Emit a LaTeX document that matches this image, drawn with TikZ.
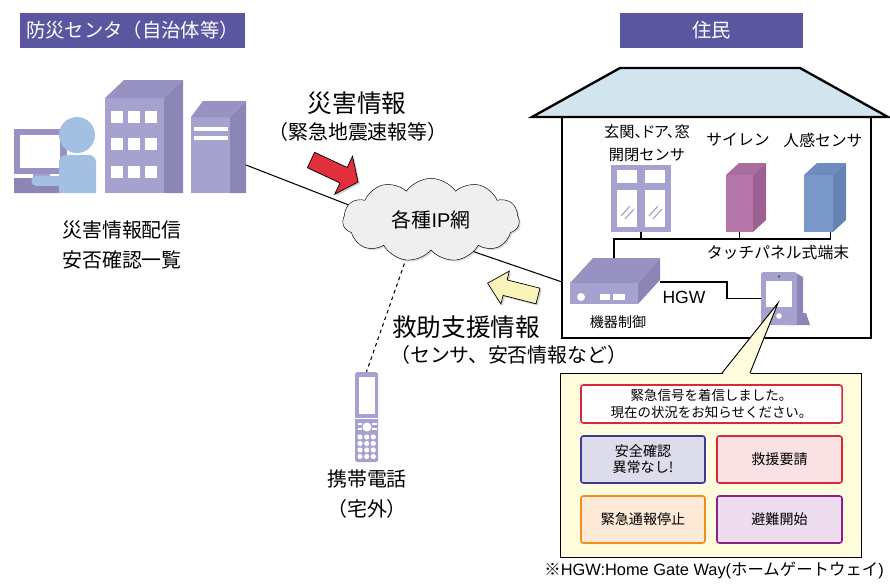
\documentclass[tikz,border=0pt]{standalone}
\usepackage{fontspec}
\setmainfont{Noto Sans CJK JP}
\newfontfamily\latinfont{Liberation Sans}
\usepackage{xcolor}
\usepackage{tikz}
\usetikzlibrary{positioning,shapes.symbols,shadows,calc}

\definecolor{hdrpurple}{HTML}{5B56A0}
\definecolor{lav}{HTML}{A6A2CF}
\definecolor{lavtop}{HTML}{9792C1}
\definecolor{lavside}{HTML}{8B86B6}
\definecolor{skin}{HTML}{A3BFE1}
\definecolor{roof}{HTML}{D2E5EE}
\definecolor{sirenf}{HTML}{B576A9}
\definecolor{sirent}{HTML}{A96C9E}
\definecolor{sirens}{HTML}{9C6192}
\definecolor{humf}{HTML}{7A97C9}
\definecolor{humt}{HTML}{6F8CBE}
\definecolor{hums}{HTML}{6783B3}
\definecolor{alarmred}{HTML}{E1303B}
\definecolor{hintyel}{HTML}{FAF3BA}
\definecolor{cloudfill}{HTML}{EFEFEF}
\definecolor{panelbg}{HTML}{FFFBDD}
\definecolor{btnred}{HTML}{D9263C}
\definecolor{btnnavy}{HTML}{3B3C8C}
\definecolor{btnorange}{HTML}{F18D1F}
\definecolor{btnpurple}{HTML}{8C1F8C}

\newcommand{\fsize}[2]{\fontsize{#1}{#2}\selectfont}

\tikzset{
  hdr/.style={fill=hdrpurple, text=white, font=\fsize{16.5}{20}, minimum height=1.05cm, inner sep=0pt},
  lbl/.style={align=center, inner sep=0pt},
  face/.style={fill=lav, inner sep=0pt},
  wire/.style={line width=0.9pt},
  btn/.style={draw, rounded corners=2pt, line width=1.3pt, align=center, inner sep=0pt, font=\fsize{12}{13.5}},
  blockarrow/.style={draw, line width=0.6pt, line join=miter, drop shadow={opacity=0.35, shadow xshift=1.5pt, shadow yshift=-1.5pt}}
}

\begin{document}
\begin{tikzpicture}[x=0.03cm, y=-0.03cm]
  \useasboundingbox (0,0) rectangle (890,583);

  % Headers
  \node[hdr, minimum width=6.75cm] (hq) at (132.5,30.5) {防災センタ（自治体等）};
  \node[hdr, minimum width=5.49cm] (resident) at (711.5,30.5) {住民};

  % Operator at desk
  \fill[lavtop] (14,129) rectangle (67,174);
  \fill[white] (20,135) rectangle (60,168);
  \fill[lav] (33,174) rectangle (50,179);
  \fill[lavside] (14,178) -- (55,178) -- (62,193) -- (14,193) -- cycle;
  \fill[skin] (59,193) [rounded corners=6pt] -- (59,155) -- (96,155) [sharp corners] -- (96,193) -- cycle;
  \fill[skin] (77,135) circle (18);
  \draw[skin, line width=8pt, line cap=round] (36,181) -- (62,181);

  % Office building
  \node[face, minimum width=1.77cm, minimum height=2.85cm] (office) at (134.5,145.5) {};
  \fill[lavtop] (105,98) -- (124,80) -- (183,80) -- (164,98) -- cycle;
  \fill[lavside] (164,98) -- (183,80) -- (183,193) -- (164,193) -- cycle;
  \foreach \wx in {111,128,145}
    \foreach \wy in {111,138,166}
      \fill[white] (\wx,\wy) rectangle ++(12,12);

  % Server tower
  \node[face, minimum width=1.17cm, minimum height=2.28cm] (server) at (210.5,155) {};
  \fill[lavtop] (191,117) -- (203,101) -- (246,101) -- (230,117) -- cycle;
  \fill[lavside] (230,117) -- (246,101) -- (246,193) -- (230,193) -- cycle;
  \fill[white] (194,127) rectangle (228,131);
  \fill[white] (194,136) rectangle (228,140);

  \node[lbl, font=\fsize{17}{26}] (hqlbl) at (122,245) {災害情報配信\\安否確認一覧};

  % Mobile phone
  \node[face, rounded corners=1.5pt, minimum width=0.69cm, minimum height=2.7cm] (phone) at (366.5,417) {};
  \fill[white] (358.5,377) rectangle (374.5,414);
  \draw[white, line width=0.6pt] (355,418.5) -- (378,418.5);
  \fill[white] (367,427) circle (4.5);
  \fill[white] (357.5,423) rectangle (362,425);
  \fill[white] (357.5,428) rectangle (362,430);
  \fill[white] (372,423) rectangle (376.5,425);
  \fill[white] (372,428) rectangle (376.5,430);
  \foreach \kx in {360,366.7,373.3}
    \foreach \ky in {437,443.5,450,456.5}
      \fill[white] (\kx,\ky) circle (2.6);
  \node[lbl, font=\fsize{17}{25}] (phonelbl) at (367,494) {携帯電話\\（宅外）};

  % House
  \draw[line width=2pt, fill=roof, line join=miter] (532,117) -- (620,68) -- (800,68) -- (888,117) -- cycle;
  \draw[line width=2pt] (562,117) -- (562,338) -- (871,338) -- (871,117);
  \coordinate (wallL) at (562,282);

  % Sensors
  \node[face, minimum width=1.8cm, minimum height=2.01cm] (window) at (641,198.5) {};
  \fill[white] (617,170) rectangle (637,183);
  \fill[white] (645,170) rectangle (665,183);
  \fill[white] (617,190) rectangle (637,227);
  \fill[white] (645,190) rectangle (665,227);
  \foreach \gx in {617,645} {
    \draw[lav, line width=1pt] (\gx+4,216) -- (\gx+13,206);
    \draw[lav, line width=1pt] (\gx+8,219) -- (\gx+17,209);
  }
  \node[fill=sirenf, inner sep=0pt, minimum width=0.81cm, minimum height=1.71cm] (siren) at (739.5,203.5) {};
  \fill[sirent] (726,175) -- (739,163) -- (766,163) -- (753,175) -- cycle;
  \fill[sirens] (753,175) -- (766,163) -- (766,220) -- (753,232) -- cycle;
  \node[fill=humf, inner sep=0pt, minimum width=0.87cm, minimum height=1.71cm] (hsens) at (818.5,203.5) {};
  \fill[humt] (804,175) -- (817,163) -- (846,163) -- (833,175) -- cycle;
  \fill[hums] (833,175) -- (846,163) -- (846,220) -- (833,232) -- cycle;

  \node[lbl, font=\fsize{13}{20}] (winlbl) at (647,143) {{\addfontfeatures{RawFeature=+palt}玄関、ドア、窓}\\開閉センサ};
  \node[lbl, font=\fsize{13.5}{16}] (sirenlbl) at (738,140) {サイレン};
  \node[lbl, font=\fsize{13.5}{16}] (hsenslbl) at (823,140) {人感センサ};

  % Device controller (HGW)
  \node[face, minimum width=2.04cm, minimum height=0.63cm] (mctrl) at (604,293.5) {};
  \fill[lavtop] (570,283) -- (593,258) -- (660,258) -- (638,283) -- cycle;
  \fill[lavside] (638,283) -- (660,258) -- (660,280) -- (638,304) -- cycle;
  \fill[white] (581,297) circle (4);
  \fill[white] (600,294) rectangle (610,300);
  \fill[white] (613,294) rectangle (625,300);
  \node[lbl, font=\fsize{12}{14}] (mctrllbl) at (618,322) {機器制御};
  \node[lbl, font=\latinfont\fsize{15}{18}] (hgwlbl) at (684,297) {HGW};

  % Sensor bus
  \coordinate (busL) at (614,258);
  \coordinate (bus) at (614,239);
  \draw[wire] (busL) -- (bus) -| ([xshift=-0.09cm]hsens.south east);
  \draw[wire] (window.south) -- (window.south |- bus);
  \draw[wire] (siren.south) -- (siren.south |- bus);
  \node[lbl, font=\fsize{13.5}{16}] (tplbl) at (778,253) {タッチパネル式端末};

  % Touch panel terminal
  \fill[lavside] (796,273) -- (803,277) -- (803,318) -- (796,322) -- cycle;
  \fill[lavside] (790,313) -- (806,313) -- (810,325) -- (788,325) -- cycle;
  \node[face, rounded corners=1.5pt, minimum width=1.08cm, minimum height=1.59cm] (tpanel) at (779,298.5) {};
  \fill[white] (766,281) rectangle (792,307);
  \fill[lavside!60!black] (779,276.5) circle (1.3);
  \fill[white] (779,316) circle (2.8);
  \coordinate (hgwport) at (660,282);
  \draw[wire] (hgwport) -- (727,282) |- (tpanel.west);

  % Network links
  \coordinate (srv) at (246,165);
  \coordinate (netjoin) at (431,237);
  \draw[wire] (srv) -- (netjoin) -- (wallL);
  \draw[wire, dashed] ([xshift=-0.52cm]netjoin) -- (phone.north);
  \node[cloud, cloud puffs=11, cloud puff arc=110, aspect=2.1, draw, fill=cloudfill,
        minimum width=5.3cm, minimum height=2.5cm, font=\fsize{17}{20},
        drop shadow={opacity=0.3, shadow xshift=1.2pt, shadow yshift=-1.2pt}] (ipnet) at (431,220) {各種{\latinfont IP}網};

  % Info arrows
  \draw[blockarrow, fill=alarmred] (314.6,152.3) -- (347.2,167.5) -- (352.5,156.2) -- (358.1,182) -- (334.7,194.2) -- (340,182.9) -- (307.4,167.7) -- cycle;
  \draw[blockarrow, fill=hintyel] (540,288.2) -- (507.1,279.9) -- (509.3,271.1) -- (487.6,283.2) -- (500.9,304.1) -- (503.1,295.4) -- (536,303.8) -- cycle;
  \node[lbl, font=\fsize{21}{24}] (dinfo) at (357,103) {災害情報};
  \node[lbl, font=\fsize{17}{20}] (dinfosub) at (358,132) {（緊急地震速報等）};
  \node[lbl, font=\fsize{21}{24}, anchor=west] (rinfo) at (392,327) {救助支援情報};
  \node[lbl, font=\fsize{17}{20}, anchor=west] (rinfosub) at (390,355) {（センサ、安否情報など）};

  % Screen popup
  \node[draw, line width=0.8pt, fill=panelbg, minimum width=9.03cm, minimum height=5.52cm] (panel) at (710.5,465) {};
  \fill[panelbg] (778,303) -- (722,375) -- (750,375) -- cycle;
  \draw[line width=0.8pt] (722,373) -- (778,303) -- (750,373);
  \node[btn, draw=btnred, fill=white, minimum width=7.83cm, minimum height=1.14cm, font=\fsize{11.5}{14}] (msg) at (711.5,404) {緊急信号を着信しました。\\現在の状況をお知らせください。};
  \node[btn, draw=btnnavy, fill=btnnavy!18, minimum width=3.72cm, minimum height=1.41cm] (safe) at (643,459.5) {安全確認\\異常なし!};
  \node[btn, draw=btnred, fill=btnred!14, minimum width=3.75cm, minimum height=1.41cm] (rescue) at (779.5,459.5) {救援要請};
  \node[btn, draw=btnorange, fill=btnorange!18, minimum width=3.72cm, minimum height=1.41cm] (stop) at (643,519.5) {緊急通報停止};
  \node[btn, draw=btnpurple, fill=btnpurple!15, minimum width=3.75cm, minimum height=1.41cm] (evac) at (779.5,519.5) {避難開始};

  \node[lbl, font=\fsize{14}{16}, anchor=east] (note) at (884,570) {※{\latinfont HGW:Home Gate Way(}ホームゲートウェイ{\latinfont)}};
\end{tikzpicture}
\end{document}
